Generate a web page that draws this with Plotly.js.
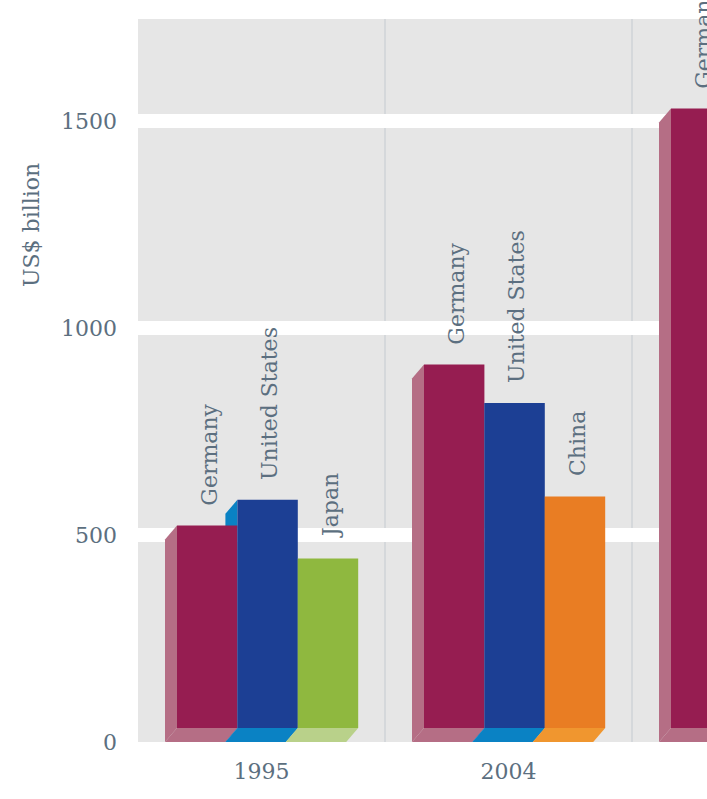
<!DOCTYPE html>
<html>
<head>
<meta charset="utf-8">
<script src="https://cdn.plot.ly/plotly-3.0.1.min.js"></script>
<style>
  html, body { margin: 0; padding: 0; background: #ffffff; overflow: hidden; }
  #chart { width: 900px; height: 799px; }
</style>
</head>
<body>
<div id="chart"></div>
<script>
// ---- data ----
const years = ['1995', '2004', '2008'];
const countries1995 = ['Germany', 'United States', 'Japan'];
const values1995 = [523, 585, 443];
const countries2004 = ['Germany', 'United States', 'China'];
const values2004 = [912, 819, 593];
const countries2008 = ['Germany'];
const values2008 = [1530];
const yTicks = [0, 500, 1000, 1500];
const yTitle = 'US$ billion';

// ---- styles ----
const frontColors = {
  'Germany': '#961d51',
  'United States': '#1c3f94',
  'Japan': '#8fb83f',
  'China': '#e97d23'
};
const sideColors = {
  'Germany': '#b56e85',
  'United States': '#0a82c4',
  'Japan': '#b9d18a',
  'China': '#f0962f'
};
const textColor = '#5c6f80';
const fontFamily = 'DejaVu Serif, serif';
const fontSize = 22;

const groups = [
  { countries: countries1995, values: values1995 },
  { countries: countries2004, values: values2004 },
  { countries: countries2008, values: values2008 }
];

// geometry (in axis units)
const yMax = 1746.5;
const plotHpx = 723, plotWpx = 741;
const pxPerY = plotHpx / yMax;
const pxPerX = plotWpx / 3;
const DY = 14 / pxPerY;      // depth, vertical
const DX = 12 / pxPerX;      // depth, horizontal
const W = 60.4 / pxPerX;     // bar width
const backStart = -96.5 / pxPerX;
const frontStart = backStart + DX;

const traces = [];
const sideShapes = [];
const bottomShapes = [];
const annotations = [];

for (let slot = 0; slot < 3; slot++) {
  const xs = [], ys = [], bases = [], cols = [], names = [];
  groups.forEach((g, gi) => {
    if (slot < g.values.length) {
      xs.push(gi);
      ys.push(g.values[slot] - DY);
      bases.push(DY);
      cols.push(frontColors[g.countries[slot]]);
      names.push(g.countries[slot]);
    }
  });
  traces.push({
    type: 'bar',
    x: xs, y: ys, base: bases,
    offset: frontStart + slot * W,
    width: W,
    marker: { color: cols, line: { width: 0 } },
    text: names,
    textposition: 'none',
    hoverinfo: 'skip',
    showlegend: false
  });
}

groups.forEach((g, gi) => {
  g.values.forEach((v, k) => {
    const xbl = gi + backStart + k * W;
    const xbr = xbl + W;
    const xfl = xbl + DX;
    const xfr = xbr + DX;
    const col = sideColors[g.countries[k]];
    sideShapes.push({
      type: 'path', xref: 'x', yref: 'y', layer: 'between',
      path: `M ${xbl},0 L ${xbl},${v - DY} L ${xfl},${v} L ${xfl},${DY} Z`,
      fillcolor: col, line: { width: 0 }
    });
    bottomShapes.push({
      type: 'path', xref: 'x', yref: 'y', layer: 'between',
      path: `M ${xbl},0 L ${xbr},0 L ${xfr},${DY} L ${xfl},${DY} Z`,
      fillcolor: col, line: { width: 0 }
    });
    annotations.push({
      x: gi + frontStart + k * W + W / 2,
      y: v,
      xref: 'x', yref: 'y',
      text: g.countries[k],
      textangle: -90,
      showarrow: false,
      xanchor: 'center',
      yanchor: 'bottom',
      yshift: 18,
      xshift: 2,
      font: { family: fontFamily, size: fontSize, color: textColor }
    });
  });
});

annotations.push({
  xref: 'paper', yref: 'paper',
  x: 0, y: 0.715,
  xshift: -107,
  text: yTitle,
  textangle: -90,
  showarrow: false,
  xanchor: 'center', yanchor: 'middle',
  font: { family: fontFamily, size: fontSize, color: textColor }
});

const layout = {
  width: 900,
  height: 799,
  margin: { l: 138, r: 21, t: 19, b: 57 },
  paper_bgcolor: '#ffffff',
  plot_bgcolor: '#e6e6e6',
  barmode: 'overlay',
  font: { family: fontFamily, size: fontSize, color: textColor },
  xaxis: {
    range: [-0.5, 2.5],
    tickmode: 'array',
    tickvals: [0, 1],
    ticktext: years.slice(0, 2),
    showgrid: false,
    zeroline: false,
    showline: false,
    ticks: '',
    ticklabelstandoff: 14,
    tickfont: { family: fontFamily, size: fontSize, color: textColor },
    minor: {
      tickmode: 'array',
      tickvals: [0.5, 1.5],
      showgrid: true,
      gridcolor: '#d5d8db',
      gridwidth: 2,
      ticks: ''
    },
    fixedrange: true
  },
  yaxis: {
    range: [0, yMax],
    tickmode: 'array',
    tickvals: yTicks,
    ticktext: yTicks.map(String),
    showgrid: true,
    gridcolor: '#ffffff',
    gridwidth: 14,
    zeroline: true,
    zerolinecolor: 'rgba(0,0,0,0)',
    showline: false,
    ticks: '',
    ticklabelstandoff: 20,
    tickfont: { family: fontFamily, size: fontSize, color: textColor },
    fixedrange: true
  },
  shapes: sideShapes.concat(bottomShapes),
  annotations: annotations,
  showlegend: false
};

Plotly.newPlot('chart', traces, layout, { displayModeBar: false, staticPlot: true });
</script>
</body>
</html>
